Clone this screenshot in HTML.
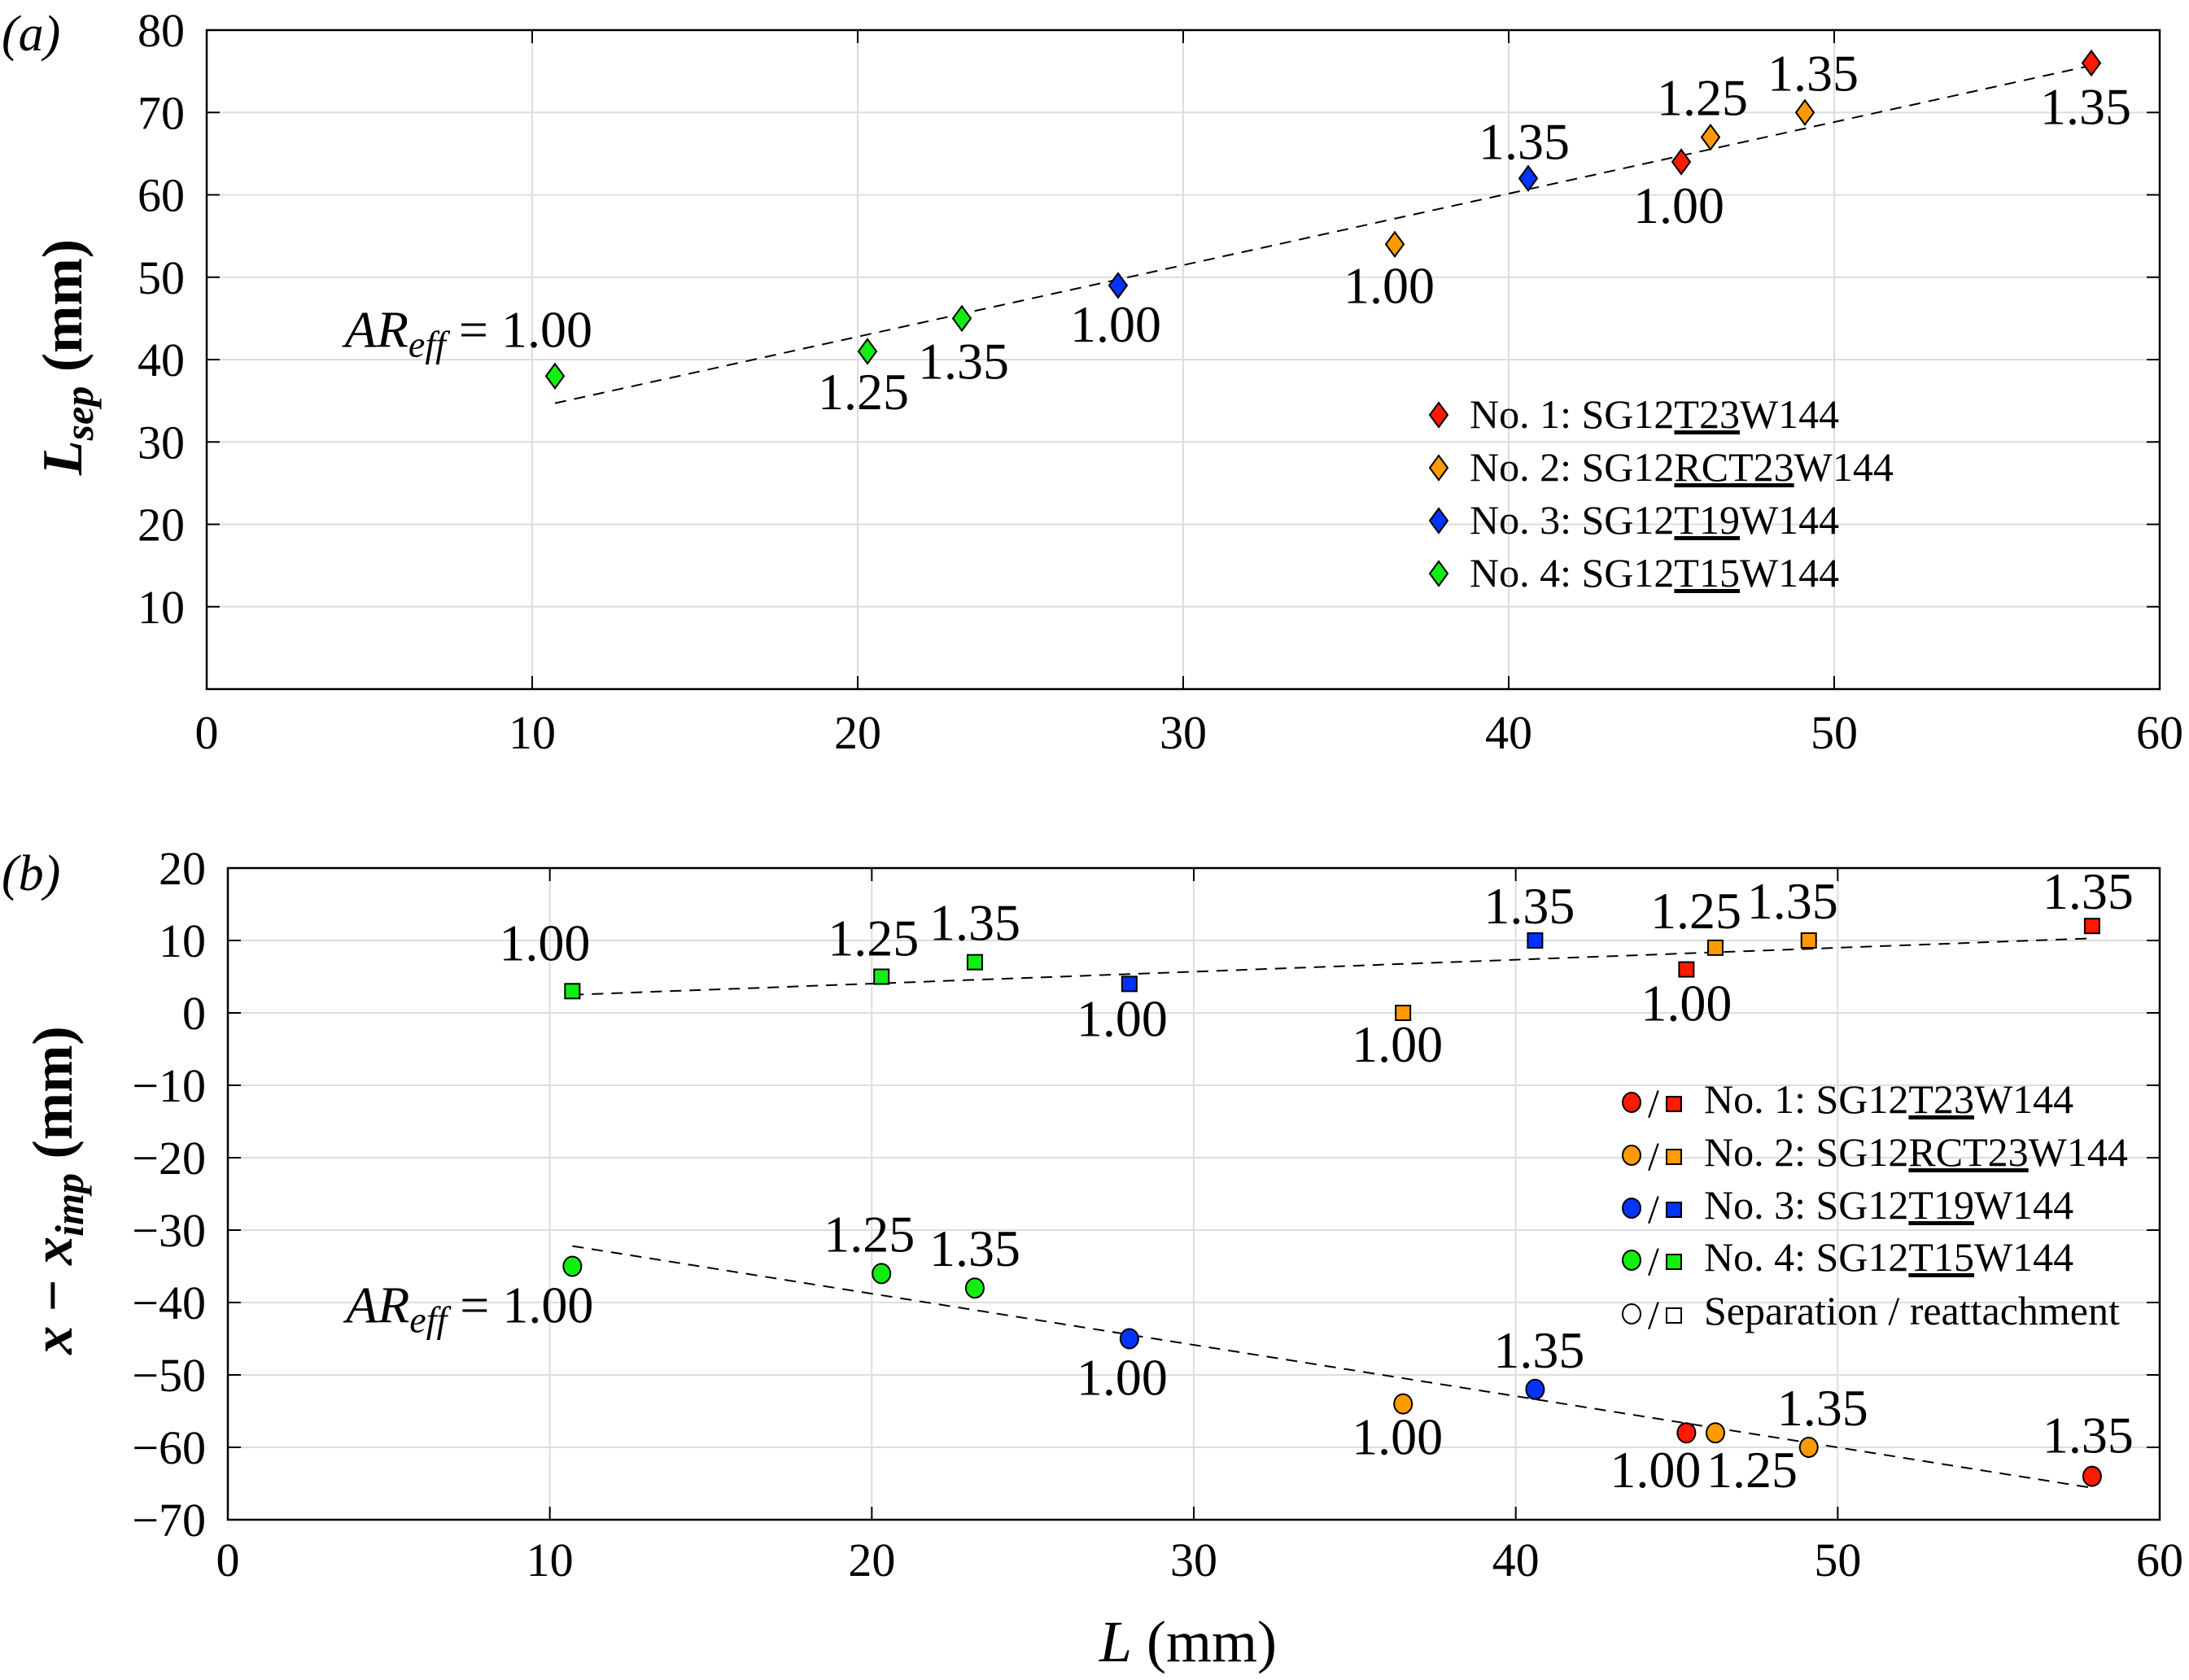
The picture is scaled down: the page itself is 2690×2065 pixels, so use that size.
<!DOCTYPE html>
<html><head><meta charset="utf-8"><style>
html,body{margin:0;padding:0;background:#fff;}
svg, svg text{font-family:"Liberation Serif","Times New Roman",serif;}
</style></head><body>
<svg id="chart" width="2690" height="2060" viewBox="0 0 2690 2060" font-family="Liberation Serif, serif" xmlns="http://www.w3.org/2000/svg">
<text x="2" y="62" font-size="62" font-style="italic">(a)</text>
<text x="2" y="1094" font-size="62" font-style="italic">(b)</text>
<text transform="translate(100,439) rotate(-90)" text-anchor="middle" font-size="70" font-weight="bold"><tspan font-style="italic">L</tspan><tspan font-style="italic" font-size="50" dy="14">sep</tspan><tspan dy="-14"> (mm)</tspan></text>
<text transform="translate(88,1463) rotate(-90)" text-anchor="middle" font-size="70" font-weight="bold"><tspan font-style="italic">x</tspan><tspan> − </tspan><tspan font-style="italic">x</tspan><tspan font-style="italic" font-size="50" dy="14">imp</tspan><tspan dy="-14"> (mm)</tspan></text>
<text x="1460" y="2042" text-anchor="middle" font-size="72"><tspan font-style="italic">L</tspan> (mm)</text>
</svg>
<script>
// ---- data ----
const xTicks = [0,10,20,30,40,50,60];
const yTicksA = [10,20,30,40,50,60,70,80];
const yTicksB = [-70,-60,-50,-40,-30,-20,-10,0,10,20];
const seriesNames = ["No. 1","No. 2","No. 3","No. 4"];
const seriesColors = ["#ff1a00","#ff9a00","#0033ff","#11ee11"];
const caseL   = [10.7,20.3,23.2,28.0,40.6,36.5,46.2,49.1,45.3,57.9];
const caseSer = [3,3,3,2,2,1,1,1,0,0];
const caseAR  = ["1.00","1.25","1.35","1.00","1.35","1.00","1.25","1.35","1.00","1.35"];
const lsep    = [38,41,45,49,62,54,67,70,64,76];
const reattach= [3,5,7,4,10,0,9,10,6,12];
const separ   = [-35,-36,-38,-45,-52,-54,-58,-60,-58,-64];
const fitA = [[10.7,34.7],[57.9,75.7]];
const fitBtop = [[10.7,2.5],[57.9,10.3]];
const fitBbot = [[10.7,-32.2],[57.9,-65.6]];
// ---- label offsets (px) ----
const offA  = [[46,-36],[-5,71],[2,74],[-3,69],[-5,-24],[-7,72],[-10,-27],[10,-27],[-3,75],[-7,75]];
const offBs = [[-34,-38],[-10,-26],[0,-27],[-9,64],[-7,-21],[-7,60],[-24,-24],[-20,-27],[0,63],[-5,-21]];
const offBc = [[26,69],[-15,-27],[0,-27],[-9,69],[5,-27],[-7,62],[45,67],[17,-27],[-38,67],[-5,-29]];

const NS="http://www.w3.org/2000/svg";
const svg=document.getElementById('chart');
function mk(tag,attrs,parent){const e=document.createElementNS(NS,tag);for(const k in attrs)e.setAttribute(k,attrs[k]);(parent||svg).appendChild(e);return e;}

const pA={l:254,r:2654,t:37,b:847,y0:0,y1:80};
const pB={l:280,r:2654,t:1067,b:1868,y0:-70,y1:20};
function sx(p,v){return p.l+(v-0)/60*(p.r-p.l);}
function sy(p,v){return p.b-(v-p.y0)/(p.y1-p.y0)*(p.b-p.t);}

function axes(p,yt,lblRight,xLabY,id){
  const g=mk('g',{});
  
  
  xTicks.forEach(v=>{if(v>0&&v<60){const l=mk('line',{x1:sx(p,v),x2:sx(p,v),y1:p.t,y2:p.b,stroke:'#dddddd','stroke-width':2},g);
    }});
  yt.forEach(v=>{if(sy(p,v)>p.t+1&&sy(p,v)<p.b-1){const l=mk('line',{x1:p.l,x2:p.r,y1:sy(p,v),y2:sy(p,v),stroke:'#dddddd','stroke-width':2},g);
    }});
  xTicks.forEach(v=>{const x=sx(p,v);
    mk('line',{x1:x,x2:x,y1:p.b,y2:p.b-16,stroke:'#000','stroke-width':2},g);
    mk('line',{x1:x,x2:x,y1:p.t,y2:p.t+16,stroke:'#000','stroke-width':2},g);
    const t=mk('text',{x:x,y:xLabY,'text-anchor':'middle','font-size':58},g);t.textContent=v;
    });
  yt.forEach(v=>{const y=sy(p,v);
    mk('line',{x1:p.l,x2:p.l+16,y1:y,y2:y,stroke:'#000','stroke-width':2},g);
    mk('line',{x1:p.r,x2:p.r-16,y1:y,y2:y,stroke:'#000','stroke-width':2},g);
    const t=mk('text',{x:lblRight,y:y+20,'text-anchor':'end','font-size':58},g);t.textContent=(v<0?'−'+(-v):v);
    });
  const f=mk('rect',{x:p.l,y:p.t,width:p.r-p.l,height:p.b-p.t,fill:'none',stroke:'#000','stroke-width':2.5},g);
  
}
axes(pA,yTicksA,227,920,'a');
axes(pB,yTicksB,253,1937,'b');

function fit(p,pts,name){const l=mk('line',{x1:sx(p,pts[0][0]),y1:sy(p,pts[0][1]),x2:sx(p,pts[1][0]),y2:sy(p,pts[1][1]),stroke:'#000','stroke-width':2,'stroke-dasharray':'14 10'});
  }
fit(pA,fitA,'fit-line-a');fit(pB,fitBtop,'fit-line-reattachment');fit(pB,fitBbot,'fit-line-separation');

function diamond(x,y,c,parent){return mk('polygon',{points:`${x},${y-15} ${x+11},${y} ${x},${y+15} ${x-11},${y}`,fill:c,stroke:'#000','stroke-width':2},parent);}
function square(x,y,c,parent){return mk('rect',{x:x-9,y:y-9,width:18,height:18,fill:c,stroke:'#000','stroke-width':2},parent);}
function circle(x,y,c,parent){return mk('ellipse',{cx:x,cy:y,rx:11,ry:12,fill:c,stroke:'#000','stroke-width':2},parent);}

function label(x,y,txt,anchor,isAR){
  const t=mk('text',{x:x,y:y,'text-anchor':anchor,'font-size':64});
  
  
  if(isAR){t.innerHTML='<tspan font-style="italic">AR</tspan><tspan font-style="italic" font-size="46" dy="12">eff</tspan><tspan dy="-12"> = '+txt+'</tspan>';}
  else t.textContent=txt;
}

caseL.forEach((L,i)=>{
  const c=seriesColors[caseSer[i]];
  let x=sx(pA,L),y=sy(pA,lsep[i]);
  const d=diamond(x,y,c);
  
  
  label(x+offA[i][0],y+offA[i][1],caseAR[i],i===0?'end':'middle',i===0);
  x=sx(pB,L);y=sy(pB,reattach[i]);
  const s=square(x,y,c);
  
  
  label(x+offBs[i][0],y+offBs[i][1],caseAR[i],'middle',false);
  y=sy(pB,separ[i]);
  const ci=circle(x,y,c);
  
  
  label(x+offBc[i][0],y+offBc[i][1],caseAR[i],i===0?'end':'middle',i===0);
});

const legTexts=['No. 1: SG12<tspan text-decoration="underline">T23</tspan>W144','No. 2: SG12<tspan text-decoration="underline">RCT23</tspan>W144','No. 3: SG12<tspan text-decoration="underline">T19</tspan>W144','No. 4: SG12<tspan text-decoration="underline">T15</tspan>W144'];
const legA=mk('g',{});


seriesNames.forEach((n,i)=>{
  const y=510+i*65;
  diamond(1768,y,seriesColors[i],legA);
  const t=mk('text',{x:1806,y:y+16,'font-size':50},legA);t.innerHTML=legTexts[i];
  
});
const legB=mk('g',{});


const rowsB=[1355,1420,1485,1549,1615];
rowsB.forEach((y,i)=>{
  const c=i<4?seriesColors[i]:'#fff';
  circle(2005,y,c,legB);
  const sl=mk('text',{x:2032,y:y+18,'font-size':50,'text-anchor':'middle'},legB);sl.textContent='/';
  square(2057,y+2,c,legB);
  const t=mk('text',{x:2094,y:y+13,'font-size':50},legB);
  t.innerHTML=i<4?legTexts[i]:'Separation / reattachment';
  
});
</script>
</body></html>
